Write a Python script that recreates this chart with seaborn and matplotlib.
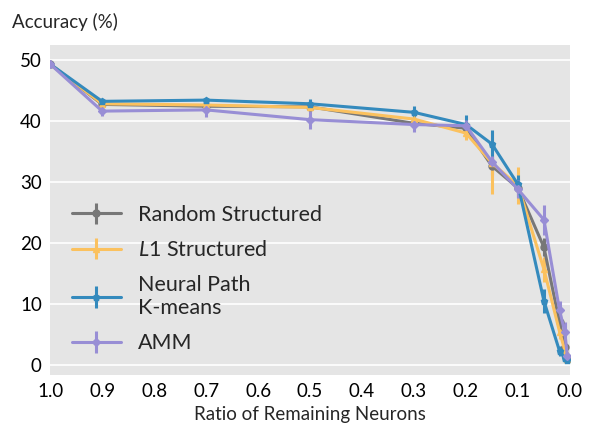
import numpy as np
import seaborn as sns
import matplotlib.pyplot as plt

# ratio of remaining neurons
ratios = [1.0, 0.9, 0.7, 0.5, 0.3, 0.2, 0.15, 0.1, 0.05, 0.02, 0.01, 0.005]

random_acc = [49.3, 42.7, 42.4, 42.3, 39.6, 38.8, 32.6, 29.0, 19.3, 7.0, 3.0, 1.2]
random_err = [0.2, 0.3, 0.3, 0.3, 0.5, 0.6, 1.5, 1.5, 1.5, 1.0, 0.8, 0.3]

l1_acc = [49.3, 42.8, 42.6, 42.2, 40.3, 38.0, 33.1, 29.4, 15.7, 5.5, 2.5, 1.0]
l1_err = [0.2, 0.3, 0.3, 0.4, 0.6, 1.2, 5.0, 3.0, 2.0, 1.2, 0.8, 0.3]

npk_acc = [49.3, 43.2, 43.4, 42.8, 41.4, 39.4, 36.2, 29.6, 10.5, 2.3, 1.2, 0.8]
npk_err = [0.2, 0.4, 0.4, 0.8, 1.0, 1.5, 2.3, 1.5, 2.0, 0.8, 0.5, 0.3]

amm_acc = [49.3, 41.6, 41.8, 40.2, 39.4, 39.2, 33.3, 28.8, 23.8, 9.0, 5.5, 1.5]
amm_err = [0.2, 0.8, 1.2, 1.5, 1.3, 1.0, 1.0, 1.5, 2.5, 1.5, 1.5, 0.5]

labels = ['Random Structured', '$L$1 Structured', 'Neural Path\nK-means', 'AMM']
colors = ['#777777', '#FBC15E', '#348ABD', '#988ED5']
markers = ['o', '^', 'p', 'D']

sns.set_theme(style='darkgrid', rc={'axes.facecolor': '#E5E5E5',
                                    'grid.color': 'white',
                                    'grid.linewidth': 1.2})
plt.rcParams['font.family'] = ['Lato', 'DejaVu Sans']
plt.rcParams['mathtext.fontset'] = 'custom'
plt.rcParams['mathtext.it'] = 'Lato:italic'
plt.rcParams['mathtext.rm'] = 'Lato'

fig = plt.figure(figsize=(5.9, 4.3), dpi=100)
ax = fig.add_axes([0.085, 0.128, 0.881, 0.767])

series = [(random_acc, random_err), (l1_acc, l1_err), (npk_acc, npk_err), (amm_acc, amm_err)]
for (acc, err), lab, col, mk in zip(series, labels, colors, markers):
    ax.errorbar(ratios, acc, yerr=err, fmt='-' + mk, color=col, ecolor=col,
                lw=2.2, elinewidth=2.2, ms=5 if mk != 'D' else 4.5, capsize=0,
                label=lab)

ax.set_xlim(1.0, 0.0)
ax.set_ylim(-1.6, 52.4)
ax.set_xticks(np.round(np.arange(1.0, -0.01, -0.1), 1))
ax.set_xticklabels([f'{t:.1f}' for t in np.arange(1.0, -0.01, -0.1)])
ax.set_yticks([0, 10, 20, 30, 40, 50])
ax.grid(axis='x', visible=False)
ax.tick_params(labelsize=13.5, length=0, pad=6, colors='black')
for s in ax.spines.values():
    s.set_visible(False)

ax.set_xlabel('Ratio of Remaining Neurons', fontsize=13.5, labelpad=4)
fig.text(0.02, 0.948, 'Accuracy (%)', fontsize=13.5, ha='left', va='center')

ax.legend(loc='lower left', bbox_to_anchor=(0.0, 0.0), frameon=False,
          fontsize=15.5, handlelength=2.3, labelspacing=0.7,
          borderaxespad=0.6)

plt.savefig('out.png', dpi=100)
